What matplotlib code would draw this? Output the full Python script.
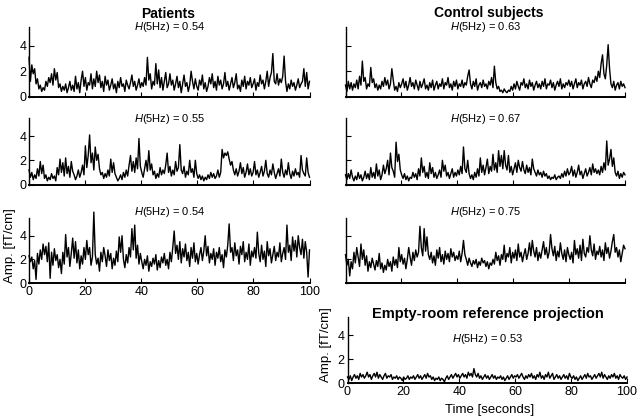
import numpy as np
import matplotlib
matplotlib.use('Agg')
import matplotlib.pyplot as plt

plt.rcParams['font.family'] = ['Liberation Sans', 'DejaVu Sans']
plt.rcParams['mathtext.fontset'] = 'custom'
plt.rcParams['mathtext.rm'] = 'Liberation Sans'
plt.rcParams['mathtext.it'] = 'Liberation Sans:italic'

# amplitude envelopes (fT/cm), 0.5 s steps over 100 s
patients_1 = [
    3.1, 1.2, 2.5, 1.8, 2.2, 1.0, 1.4, 0.6, 0.9, 0.4, 0.7, 0.5, 1.2, 0.8, 1.5, 1.1, 1.8, 0.9, 2.2, 1.3,
    1.9, 0.7, 1.0, 0.4, 0.8, 0.5, 1.0, 0.3, 0.7, 1.2, 0.5, 0.9, 0.4, 1.6, 0.6, 1.1, 0.3, 1.3, 2.0, 0.8,
    1.5, 0.5, 1.1, 0.9, 1.8, 0.6, 1.4, 0.8, 2.0, 1.1, 1.7, 0.7, 1.2, 0.4, 1.6, 0.9, 1.3, 0.5, 0.9, 1.4,
    0.6, 1.0, 0.3, 1.2, 0.7, 1.5, 0.8, 1.0, 0.4, 1.3, 0.9, 0.6, 1.1, 1.7, 0.8, 1.2, 0.5, 0.9, 1.4, 0.7,
    1.1, 0.8, 1.5, 0.9, 3.1, 1.3, 1.8, 0.6, 1.2, 0.9, 2.6, 1.0, 2.1, 0.7, 1.5, 0.5, 1.2, 1.9, 0.7, 1.0,
    1.8, 0.9, 1.3, 0.5, 1.0, 1.6, 0.7, 1.2, 0.3, 1.0, 1.7, 0.8, 1.1, 0.4, 0.9, 2.0, 1.2, 0.6, 1.4, 0.8,
    0.5, 1.3, 0.9, 1.7, 0.6, 1.1, 0.4, 0.8, 1.5, 1.0, 1.8, 0.7, 1.2, 0.5, 1.6, 0.9, 1.3, 0.6, 1.0, 1.9,
    0.8, 1.2, 0.5, 1.0, 1.5, 0.7, 1.1, 1.8, 0.6, 0.9, 0.4, 1.3, 0.8, 1.6, 0.6, 1.2, 0.9, 1.5, 0.7, 1.0,
    1.4, 0.5, 1.1, 0.8, 1.7, 1.0, 1.3, 0.6, 1.2, 2.0, 0.8, 1.5, 1.9, 3.4, 1.2, 1.0, 1.8, 0.9, 1.4, 1.1,
    1.6, 3.2, 1.2, 0.4, 1.0, 0.6, 1.3, 0.8, 1.1, 0.5, 0.9, 1.4, 0.7, 1.0, 1.2, 2.2, 0.8, 1.9, 0.6, 1.2,
]
control_1 = [
    0.9, 0.4, 1.2, 0.6, 1.1, 0.5, 1.0, 0.7, 1.3, 0.6, 1.6, 0.9, 2.8, 1.2, 1.5, 0.6, 1.0, 0.8, 2.3, 1.1,
    1.4, 0.7, 1.0, 0.5, 0.9, 0.6, 1.2, 0.8, 1.5, 0.9, 1.3, 0.6, 1.0, 2.2, 1.3, 0.5, 0.8, 0.4, 1.1, 0.7,
    1.0, 1.4, 0.7, 1.2, 0.5, 0.9, 1.5, 0.8, 1.1, 0.6, 1.3, 0.9, 0.5, 1.2, 0.7, 1.0, 1.4, 0.6, 0.9, 0.5,
    1.1, 0.7, 1.3, 0.5, 0.9, 1.2, 0.6, 1.0, 0.8, 1.4, 0.6, 1.1, 0.9, 1.5, 0.7, 1.0, 0.5, 1.2, 0.8, 1.3,
    0.6, 1.0, 0.8, 1.3, 0.7, 1.1, 0.9, 1.6, 2.1, 1.0, 0.6, 1.2, 0.8, 1.4, 0.5, 0.9, 1.1, 0.7, 1.3, 0.8,
    1.0, 0.6, 1.2, 0.9, 1.5, 0.7, 2.4, 1.1, 0.6, 0.8, 0.4, 0.5, 0.3, 0.6, 0.4, 0.3, 0.5, 0.4, 0.8, 0.5,
    1.0, 0.6, 1.2, 0.8, 0.5, 1.1, 0.9, 1.4, 0.7, 1.0, 0.6, 1.3, 0.8, 1.1, 0.5, 0.9, 1.2, 0.7, 1.0, 0.6,
    1.2, 0.8, 1.4, 0.6, 1.0, 0.9, 1.3, 0.7, 1.1, 0.5, 0.9, 1.2, 0.8, 1.4, 0.6, 1.0, 0.7, 1.1, 0.9, 1.3,
    0.8, 1.2, 0.6, 1.0, 1.4, 0.7, 1.1, 0.9, 1.3, 0.6, 1.0, 1.2, 0.8, 1.5, 1.0, 0.7, 1.3, 1.1, 1.6, 1.2,
    2.0, 1.5, 2.6, 3.3, 1.8, 1.4, 2.5, 4.1, 2.2, 1.0, 0.7, 1.2, 0.5, 0.9, 1.1, 0.6, 1.2, 0.8, 1.0, 0.7,
]
patients_2 = [
    1.2, 0.6, 1.0, 0.4, 0.8, 0.5, 1.3, 0.7, 1.9, 0.9, 1.6, 0.5, 0.8, 0.3, 0.6, 0.4, 0.9, 0.5, 0.7, 0.3,
    1.4, 0.8, 2.1, 1.0, 1.8, 0.7, 2.2, 0.9, 1.5, 0.6, 1.9, 1.1, 0.8, 0.4, 0.7, 1.2, 0.6, 1.0, 1.6, 0.8,
    3.2, 1.4, 2.4, 4.1, 1.8, 2.6, 1.2, 3.1, 2.0, 2.5, 1.3, 0.8, 1.0, 0.5, 0.9, 0.6, 1.2, 0.7, 2.1, 1.0,
    1.8, 0.9, 0.6, 0.3, 0.5, 0.8, 0.4, 1.0, 0.6, 1.2, 0.7, 1.6, 2.4, 1.1, 1.9, 1.0, 2.2, 1.3, 3.8, 1.5,
    1.0, 0.6, 1.3, 2.0, 1.1, 2.8, 1.2, 1.7, 0.8, 1.1, 0.5, 0.9, 0.6, 1.4, 0.8, 1.2, 0.9, 1.6, 2.6, 1.0,
    1.5, 0.7, 1.2, 0.8, 1.9, 1.1, 1.4, 3.3, 1.2, 0.9, 1.5, 0.6, 1.1, 0.8, 2.0, 1.0, 1.3, 0.6, 2.0, 0.9,
    0.5, 0.8, 0.4, 0.7, 0.3, 0.6, 0.4, 0.8, 0.5, 1.0, 0.6, 0.9, 0.5, 0.7, 1.2, 0.6, 1.0, 2.9, 2.2, 2.6,
    2.4, 2.7, 2.1, 1.6, 1.9, 1.2, 0.8, 1.3, 0.7, 1.1, 1.8, 0.9, 1.4, 0.6, 1.0, 1.7, 0.8, 1.3, 0.7, 1.0,
    1.9, 0.8, 1.2, 0.6, 1.0, 1.5, 0.7, 1.1, 2.0, 0.9, 0.6, 1.2, 0.8, 1.7, 1.0, 0.5, 0.9, 1.3, 0.7, 2.1,
    1.0, 0.6, 1.2, 0.8, 1.8, 0.9, 0.5, 1.1, 0.7, 1.3, 0.8, 1.0, 0.6, 2.4, 1.2, 0.9, 0.7, 2.2, 1.0, 0.6,
]
control_2 = [
    0.8, 0.4, 0.9, 0.5, 1.2, 0.6, 0.3, 0.7, 0.4, 1.0, 0.5, 0.8, 0.3, 0.6, 1.1, 0.5, 0.9, 0.4, 1.4, 0.6,
    1.0, 0.5, 1.7, 0.7, 1.2, 0.4, 0.8, 1.6, 0.9, 1.3, 2.0, 0.8, 2.6, 1.4, 1.1, 0.6, 3.5, 1.9, 2.5, 1.2,
    0.8, 0.5, 0.9, 0.4, 0.7, 0.3, 0.6, 0.5, 1.0, 0.6, 0.9, 0.4, 1.3, 0.7, 2.2, 1.0, 1.5, 0.6, 1.0, 0.5,
    1.8, 0.9, 1.4, 0.6, 1.0, 0.5, 0.8, 1.2, 0.6, 2.0, 1.1, 1.6, 0.7, 1.0, 0.5, 0.9, 1.3, 0.6, 1.0, 0.7,
    1.2, 0.8, 1.5, 0.9, 3.1, 1.3, 1.0, 2.0, 0.9, 0.5, 0.8, 0.4, 1.0, 0.6, 1.3, 0.7, 2.2, 1.0, 1.6, 0.8,
    1.4, 2.1, 0.9, 1.5, 1.1, 2.5, 1.2, 1.8, 1.0, 2.8, 1.5, 2.4, 1.3, 2.8, 1.6, 1.2, 2.4, 1.0, 1.5, 0.8,
    1.3, 1.8, 1.0, 2.0, 1.4, 1.1, 1.9, 1.2, 0.9, 1.6, 1.0, 1.4, 0.8, 2.1, 1.3, 1.0, 0.7, 1.2, 0.8, 1.0,
    0.6, 1.1, 0.7, 0.9, 0.5, 0.7, 0.4, 0.6, 0.5, 0.8, 0.4, 0.6, 0.7, 0.5, 0.9, 0.6, 1.1, 0.7, 1.3, 0.8,
    1.0, 1.5, 0.7, 1.2, 0.6, 1.0, 1.6, 0.8, 1.1, 0.5, 0.9, 1.3, 0.7, 1.0, 1.4, 0.8, 1.7, 1.0, 1.3, 0.9,
    1.2, 0.8, 1.5, 1.0, 1.8, 1.2, 3.6, 1.6, 2.1, 2.9, 1.5, 2.2, 1.0, 0.7, 1.1, 0.5, 0.9, 0.6, 1.0, 0.8,
]
patients_3 = [
    2.3, 1.8, 2.2, 1.2, 1.9, 0.3, 2.5, 1.6, 2.8, 2.0, 3.3, 2.4, 3.1, 1.8, 3.4, 0.4, 2.6, 1.5, 2.9, 1.9,
    2.4, 1.3, 2.0, 0.8, 2.6, 1.6, 4.1, 2.2, 3.0, 1.4, 2.5, 3.8, 2.1, 3.5, 1.7, 2.8, 1.2, 2.3, 1.6, 3.0,
    2.0, 3.6, 2.4, 3.0, 1.5, 2.2, 6.0, 2.4, 1.6, 2.1, 1.0, 2.6, 1.8, 3.0, 2.3, 1.4, 2.8, 1.9, 2.5, 1.2,
    2.1, 1.5, 2.7, 1.8, 3.9, 2.6, 4.0, 2.0, 1.3, 2.4, 1.7, 3.0, 2.2, 4.6, 2.8, 4.9, 2.1, 3.2, 1.6, 2.5,
    1.8, 1.2, 2.0, 1.5, 2.3, 1.0, 1.8, 1.4, 2.1, 1.6, 2.4, 1.1, 1.9, 1.3, 2.2, 1.7, 2.5, 1.5, 2.0, 1.2,
    2.6, 1.8, 3.0, 4.4, 2.5, 3.2, 2.0, 3.5, 1.7, 2.9, 2.2, 3.3, 1.9, 2.6, 1.4, 3.0, 2.1, 3.4, 1.8, 2.5,
    1.6, 2.4, 3.0, 1.9, 2.7, 4.0, 2.3, 3.1, 1.7, 2.5, 2.0, 2.9, 1.5, 2.6, 2.1, 3.0, 1.8, 2.4, 1.3, 2.8,
    2.2, 3.2, 5.0, 2.6, 3.0, 1.9, 3.4, 2.3, 2.8, 1.6, 3.1, 2.4, 3.5, 1.8, 2.6, 2.0, 3.3, 1.5, 2.7, 2.2,
    3.0, 2.1, 4.3, 2.5, 1.8, 3.2, 2.0, 2.7, 1.4, 3.5, 2.3, 2.9, 1.7, 2.4, 3.1, 1.9, 2.6, 2.2, 3.4, 1.8,
    2.5, 3.0, 2.0, 4.9, 2.6, 3.2, 1.9, 3.9, 2.7, 3.6, 2.2, 4.0, 3.0, 2.4, 3.7, 2.1, 3.5, 2.6, 0.5, 2.8,
]
control_3 = [
    2.4, 1.5, 2.0, 0.6, 1.8, 1.2, 2.6, 1.7, 3.0, 2.2, 1.4, 3.3, 2.0, 2.8, 1.5, 2.3, 1.0, 1.8, 1.3, 2.1,
    1.6, 1.1, 1.9, 1.4, 2.5, 1.2, 1.7, 0.9, 1.5, 1.1, 2.0, 1.4, 1.8, 1.0, 2.2, 1.5, 2.0, 1.3, 3.0, 1.8,
    2.4, 1.6, 2.1, 1.2, 2.0, 3.0, 2.2, 1.5, 2.6, 1.9, 2.8, 2.2, 2.6, 4.8, 3.0, 2.3, 4.6, 2.7, 3.9, 2.4,
    2.0, 2.6, 1.7, 2.3, 1.5, 2.8, 2.1, 3.0, 1.8, 2.4, 1.6, 2.7, 2.0, 2.5, 1.8, 2.9, 2.2, 2.6, 1.9, 2.3,
    2.0, 2.7, 1.8, 2.5, 3.6, 2.4, 2.0, 1.5, 2.1, 1.7, 1.4, 1.9, 1.6, 2.0, 1.3, 1.8, 1.5, 2.1, 1.7, 1.9,
    1.4, 1.8, 1.2, 1.7, 1.5, 2.0, 1.6, 2.6, 1.9, 2.3, 1.5, 2.4, 2.0, 3.2, 1.8, 2.5, 2.2, 3.0, 1.7, 2.6,
    2.1, 2.8, 1.9, 3.3, 2.2, 2.6, 1.8, 2.4, 2.9, 2.0, 2.5, 3.4, 2.3, 3.6, 2.7, 2.2, 3.0, 1.9, 2.6, 2.1,
    2.8, 3.5, 2.4, 3.0, 2.1, 2.6, 4.1, 2.9, 2.3, 3.1, 1.9, 2.7, 2.2, 3.4, 2.5, 2.0, 2.8, 1.8, 3.0, 2.4,
    2.0, 2.6, 1.7, 3.6, 2.4, 2.9, 2.1, 3.2, 1.9, 3.7, 2.5, 2.2, 3.0, 2.6, 4.0, 2.8, 2.3, 3.3, 2.0, 2.7,
    2.4, 3.1, 2.2, 2.8, 1.9, 3.4, 2.5, 3.0, 2.1, 2.7, 3.5, 4.1, 2.6, 3.0, 2.2, 2.8, 1.8, 2.5, 3.2, 2.9,
]
empty_room = [
    0.5, 0.3, 0.6, 0.2, 0.5, 0.7, 0.4, 0.6, 0.3, 0.8, 0.5, 0.7, 0.4, 0.6, 0.9, 0.5, 0.7, 0.3, 0.6, 0.8,
    0.5, 0.9, 0.4, 0.7, 0.5, 0.3, 0.6, 0.8, 0.4, 0.6, 0.5, 0.7, 0.3, 0.5, 0.4, 0.6, 0.3, 0.5, 0.4, 0.2,
    0.5, 0.3, 0.4, 0.6, 0.3, 0.5, 0.4, 0.6, 0.3, 0.5, 0.7, 0.4, 0.6, 0.3, 0.5, 0.7, 0.4, 0.8, 0.5, 0.6,
    0.3, 0.5, 0.2, 0.4, 0.3, 0.5, 0.2, 0.4, 0.3, 0.1, 0.4, 0.6, 0.3, 0.5, 0.7, 0.4, 0.6, 0.8, 0.5, 0.7,
    0.4, 0.6, 0.8, 0.5, 0.7, 0.4, 0.9, 0.6, 0.8, 0.5, 1.2, 0.7, 0.5, 0.8, 0.4, 0.6, 0.3, 0.5, 0.7, 0.4,
    0.6, 0.3, 0.5, 0.7, 0.4, 0.6, 0.3, 0.5, 0.4, 0.6, 0.3, 0.5, 0.2, 0.4, 0.6, 0.3, 0.5, 0.7, 0.4, 0.6,
    0.5, 0.7, 0.4, 0.6, 0.8, 0.5, 0.3, 0.6, 0.4, 0.7, 0.5, 0.8, 0.4, 0.6, 0.3, 0.7, 0.5, 0.9, 0.4, 0.6,
    0.3, 0.7, 0.5, 0.9, 0.4, 0.6, 0.8, 0.3, 0.5, 0.7, 0.4, 0.6, 0.3, 0.5, 0.7, 0.4, 0.6, 0.3, 0.8, 0.5,
    0.4, 0.6, 0.3, 0.5, 0.2, 0.4, 0.6, 0.3, 0.5, 0.7, 0.4, 0.8, 0.5, 0.6, 0.3, 0.5, 0.7, 0.4, 0.6, 0.8,
    0.5, 0.9, 0.4, 0.7, 0.5, 0.3, 0.6, 0.4, 0.7, 0.5, 0.8, 0.4, 0.6, 0.3, 0.7, 0.5, 0.4, 0.6, 0.3, 0.5,
]

h_values = {'p1': '0.54', 'p2': '0.55', 'p3': '0.54',
            'c1': '0.63', 'c2': '0.67', 'c3': '0.75', 'er': '0.53'}
x_ticks = [0, 20, 40, 60, 80, 100]
y_ticks = [0, 2, 4]

W, H = 640, 420
fig = plt.figure(figsize=(W / 100, H / 100), dpi=100)


def add_panel(x0, y0, x1, y1):
    # axes box given in pixels from the top-left corner
    ax = fig.add_axes([x0 / W, 1 - y1 / H, (x1 - x0) / W, (y1 - y0) / H])
    for s in ['top', 'right']:
        ax.spines[s].set_visible(False)
    ax.spines['left'].set_linewidth(1.0)
    ax.spines['bottom'].set_linewidth(1.4)
    ax.set_xlim(0, 100)
    ax.set_ylim(0, 5.5)
    ax.set_xticks(x_ticks)
    ax.set_yticks(y_ticks)
    ax.tick_params(direction='in', length=3.5, width=0.8, pad=2, labelsize=9)
    return ax


def ftext(x, y, s, **kw):
    fig.text(x / W, 1 - y / H, s, ha='center', va='center', **kw)


panels = [
    (patients_1, (29, 27, 309.5, 96.5), True, False, 'p1', 27.5),
    (patients_2, (29, 118, 309.5, 184.5), True, False, 'p2', 118.5),
    (patients_3, (29, 218, 309.5, 283), True, True, 'p3', 212),
    (control_1, (345.5, 27, 625, 96.5), False, False, 'c1', 27.5),
    (control_2, (345.5, 118, 625, 184.5), False, False, 'c2', 118.5),
    (control_3, (345.5, 218, 625, 283), False, False, 'c3', 212),
    (empty_room, (347.5, 317, 627, 383), True, True, 'er', 339),
]

for vals, box, ylab, xlab, key, hy in panels:
    ax = add_panel(*box)
    t = np.linspace(0, 100, len(vals))
    ax.plot(t, vals, color='black', lw=1.0, clip_on=False)
    if not ylab:
        ax.set_yticklabels([])
    if not xlab:
        ax.set_xticklabels([])
    ftext((box[0] + box[2]) / 2, hy, r'$H$(5Hz) = ' + h_values[key], fontsize=8)

ftext(168, 13.5, 'Patients', fontsize=10, fontweight='bold')
ftext(489, 13.5, 'Control subjects', fontsize=10, fontweight='bold')
ftext(488, 314, 'Empty-room reference projection', fontsize=10.5, fontweight='bold')
ftext(10, 246, 'Amp. [fT/cm]', fontsize=9.5, rotation=90)
ftext(326, 345, 'Amp. [fT/cm]', fontsize=9.5, rotation=90)
ftext(490, 410, 'Time [seconds]', fontsize=9.5)

fig.savefig('out.png', dpi=100)
